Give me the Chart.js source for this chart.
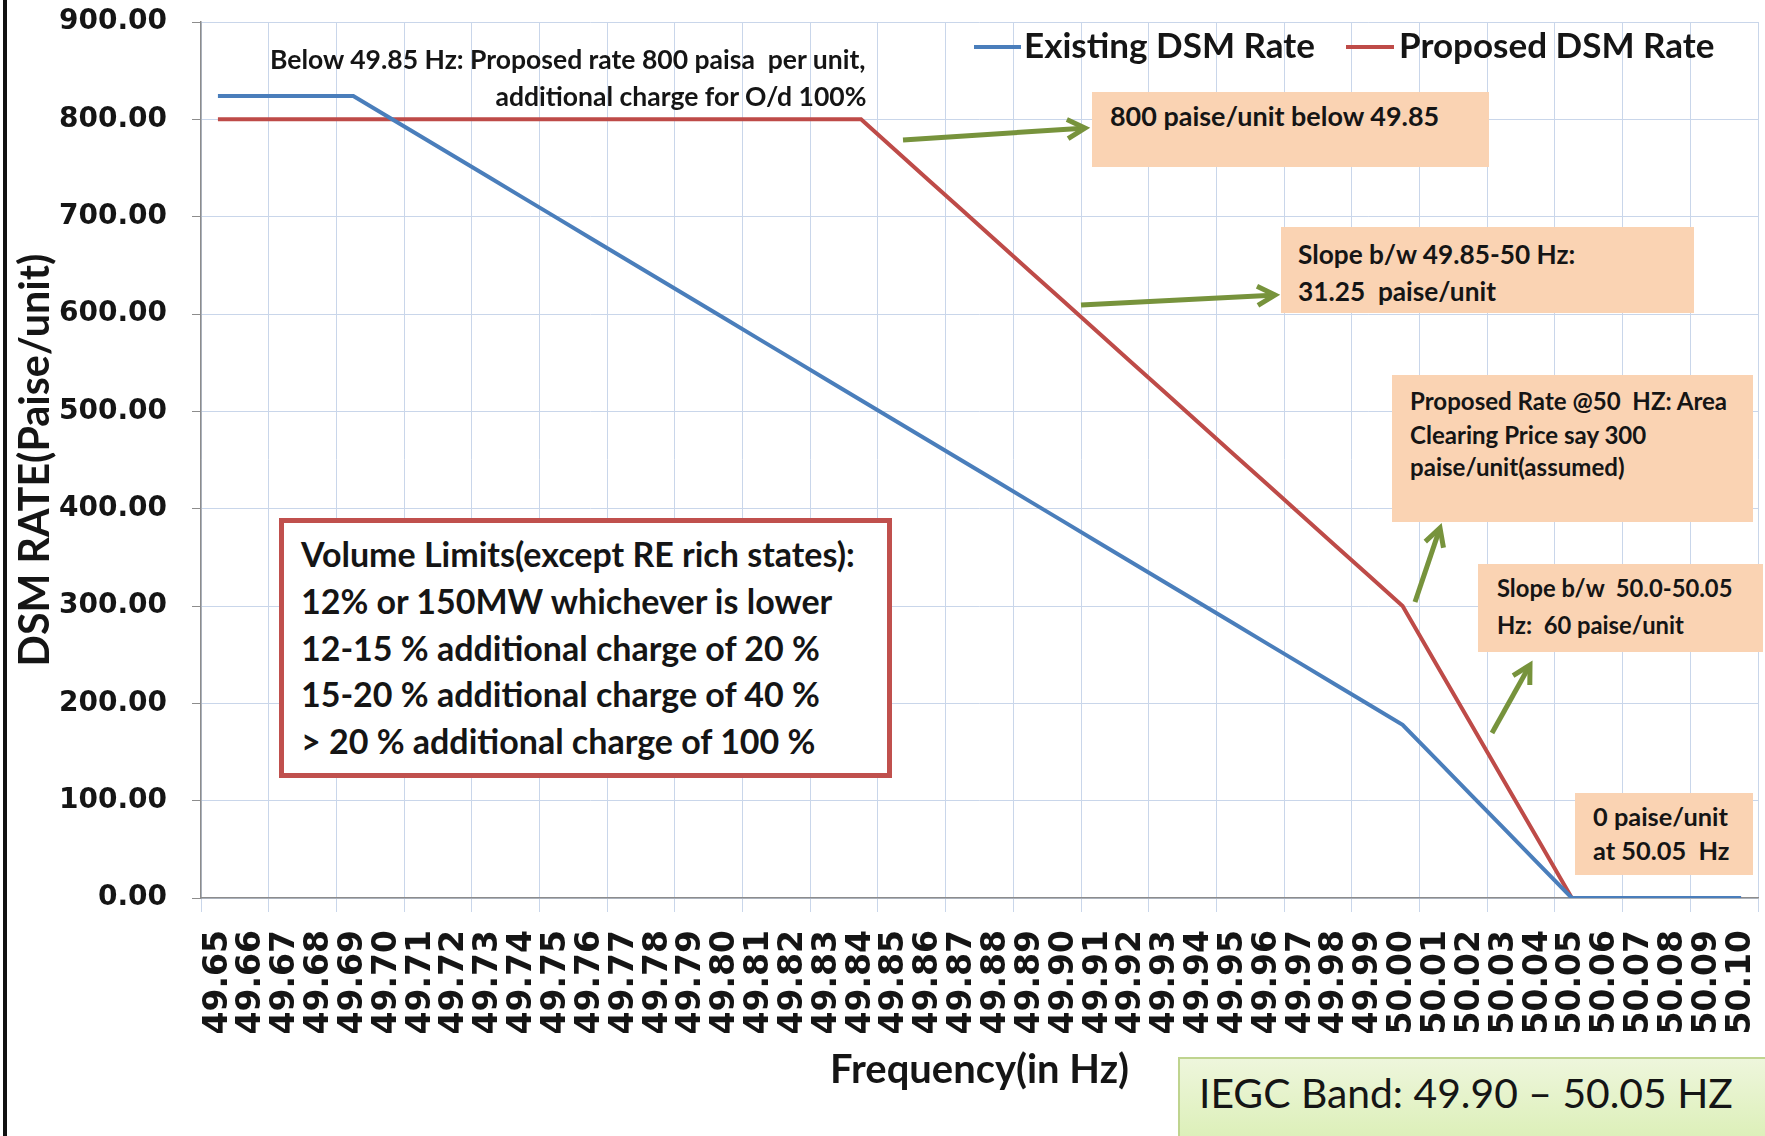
<!DOCTYPE html>
<html><head><meta charset="utf-8">
<script src="https://cdn.jsdelivr.net/npm/chart.js@4.4.1/dist/chart.umd.min.js"></script>
<style>
html,body{margin:0;padding:0;background:#fff;}
#wrap{position:relative;width:1765px;height:1136px;overflow:hidden;background:#fff;}
#c{position:absolute;left:0;top:0;}
.t{position:absolute;white-space:pre;color:#151515;}
.box{position:absolute;box-sizing:border-box;}
#arrows{position:absolute;left:0;top:0;}
</style></head><body>
<div id="wrap"><canvas id="c" width="1765" height="1136"></canvas></div>
<script>
// ---------- data ----------
const frequencyLabels = ['49.65','49.66','49.67','49.68','49.69','49.70','49.71','49.72','49.73','49.74',
  '49.75','49.76','49.77','49.78','49.79','49.80','49.81','49.82','49.83','49.84',
  '49.85','49.86','49.87','49.88','49.89','49.90','49.91','49.92','49.93','49.94',
  '49.95','49.96','49.97','49.98','49.99','50.00','50.01','50.02','50.03','50.04',
  '50.05','50.06','50.07','50.08','50.09','50.10'];
const existingRate = [824.04,824.04,824.04,824.04,824.04, 803.20,782.36,761.52,740.68,719.84,
  699.00,678.16,657.32,636.48,615.64, 594.80,573.96,553.12,532.28,511.44,
  490.60,469.76,448.92,428.08,407.24, 386.40,365.56,344.72,323.88,303.04,
  282.20,261.36,240.52,219.68,198.84, 178.00,142.40,106.80,71.20,35.60,
  0,0,0,0,0,0];
const proposedRate = [800,800,800,800,800, 800,800,800,800,800,
  800,800,800,800,800, 800,800,800,800,800,
  768.75,737.50,706.25,675.00,643.75, 612.50,581.25,550.00,518.75,487.50,
  456.25,425.00,393.75,362.50,331.25, 300,240,180,120,60,
  0,0,0,0,0,0];
const seriesNames = ['Existing DSM Rate','Proposed DSM Rate'];
const yMin = 0, yMax = 900, yStep = 100;
const xTitle = 'Frequency(in Hz)';
const yTitle = 'DSM RATE(Paise/unit)';

// ---------- styles ----------
const BLUE = '#4a7ebb', RED = '#be4b48', GREEN = '#77933c';
const GRID = '#c9d6ea', AXIS = '#8c8c8c', TXT = '#151515';
const PEACH = '#fad3b3';
const CAL = 'Lato';

const mctx = document.createElement('canvas').getContext('2d');
function fitSize(text, weight, family, target){
  mctx.font = weight + ' 100px ' + family;
  return 100 * target / mctx.measureText(text).width;
}
const yTitleSize = fitSize(yTitle, 'bold', CAL, 413);
const xTitleSize = fitSize(xTitle, 'bold', CAL, 299);

const ctx = document.getElementById('c').getContext('2d');
const everyOther = c => (c.index === undefined || c.index % 2 === 0) ? GRID : 'rgba(0,0,0,0)';

new Chart(ctx, {
  type: 'line',
  data: {
    labels: frequencyLabels,
    datasets: [
      {label: seriesNames[0], data: existingRate, borderColor: BLUE, borderWidth: 4, pointRadius: 0, tension: 0, fill: false},
      {label: seriesNames[1], data: proposedRate, borderColor: RED, borderWidth: 4, pointRadius: 0, tension: 0, fill: false}
    ]
  },
  options: {
    responsive: false, animation: false,
    layout: {padding: {left: 0, right: 7, top: 22, bottom: 0}},
    plugins: {legend: {display: false}, tooltip: {enabled: false}},
    scales: {
      x: {
        type: 'category', offset: true,
        grid: {offset: true, color: everyOther, tickColor: everyOther, lineWidth: 1, tickLength: 14},
        border: {display: true, color: AXIS, width: 1.5},
        ticks: {autoSkip: false, minRotation: 90, maxRotation: 90, padding: 18, color: TXT,
                font: {family: 'DejaVu Sans', weight: 'bold', size: 33}},
        title: {display: true, text: xTitle, color: TXT,
                font: {family: CAL, weight: 'bold', size: xTitleSize},
                padding: {top: 0, bottom: 66 - xTitleSize * 0.6}},
        afterFit: s => { s.height = 238; s.paddingLeft = 0; s.paddingRight = 0; }
      },
      y: {
        min: yMin, max: yMax,
        grid: {color: GRID, tickColor: AXIS, lineWidth: 1, tickLength: 9},
        border: {display: true, color: AXIS, width: 1.5},
        ticks: {stepSize: yStep, padding: 25, color: TXT, callback: v => Number(v).toFixed(2),
                font: {family: 'DejaVu Sans', weight: 'bold', size: 28}},
        title: {display: true, text: yTitle, color: TXT,
                font: {family: CAL, weight: 'bold', size: yTitleSize},
                padding: {top: 36 - yTitleSize * 0.6, bottom: 0}},
        afterFit: s => { s.width = 201; s.paddingTop = 0; s.paddingBottom = 0; }
      }
    }
  }
});

// ---------- overlays (annotations) ----------
const wrap = document.getElementById('wrap');
function addBox(x1, y1, x2, y2, css){
  const d = document.createElement('div'); d.className = 'box';
  d.style.left = x1 + 'px'; d.style.top = y1 + 'px';
  d.style.width = (x2 - x1) + 'px'; d.style.height = (y2 - y1) + 'px';
  Object.assign(d.style, css); wrap.appendChild(d);
}
function addText(str, o){
  const weight = o.weight || 'bold', family = o.family || CAL, size = o.size;
  const d = document.createElement('div'); d.className = 't'; d.textContent = str;
  d.style.font = weight + ' ' + size + 'px ' + family; d.style.lineHeight = '1';
  let left = o.x;
  if (o.right !== undefined){ mctx.font = weight + ' ' + size + 'px ' + family; left = o.right - mctx.measureText(str).width; }
  d.style.left = left + 'px'; d.style.top = (o.yc - 0.56 * size) + 'px';
  if (o.color) d.style.color = o.color;
  wrap.appendChild(d);
}
function addLines(lines, x, ycs, target, weight){
  const s = fitSize(lines[0], weight || 'bold', CAL, target);
  lines.forEach((l, i) => addText(l, {x: x, yc: ycs[i], size: s, weight: weight}));
  return s;
}

// left frame line
addBox(3, 0, 7, 1136, {background: '#111'});

// legend
const legSize = fitSize(seriesNames[0], 'bold', CAL, 291);
addBox(974, 45, 1021, 49, {background: BLUE});
addText(seriesNames[0], {x: 1024, yc: 47, size: legSize});
addBox(1346, 45, 1394, 49, {background: RED});
addText(seriesNames[1], {x: 1399, yc: 47, size: legSize});

// note at top-left
const n1 = fitSize('Below 49.85 Hz: Proposed rate 800 paisa  per unit,', 'bold', CAL, 597);
addText('Below 49.85 Hz: Proposed rate 800 paisa  per unit,', {x: 270, yc: 61, size: n1});
addText('additional charge for O/d 100%', {right: 867, yc: 98, size: n1});

// peach boxes
addBox(1092, 92, 1489, 167, {background: PEACH});
addLines(['800 paise/unit below 49.85'], 1110, [118], 330);

addBox(1281, 227, 1694, 313, {background: PEACH});
addLines(['Slope b/w 49.85-50 Hz:', '31.25  paise/unit'], 1298, [256, 293], 278);

addBox(1392, 375, 1753, 522, {background: PEACH});
addLines(['Proposed Rate @50  HZ: Area', 'Clearing Price say 300', 'paise/unit(assumed)'], 1410, [402, 436, 468], 318);

addBox(1478, 564, 1763, 652, {background: PEACH});
addLines(['Slope b/w  50.0-50.05', 'Hz:  60 paise/unit'], 1497, [590, 627], 236);

addBox(1575, 793, 1753, 875, {background: PEACH});
addLines(['0 paise/unit', 'at 50.05  Hz'], 1593, [818, 852], 135);

// volume limits box
addBox(279, 518, 892, 778, {background: '#fff', border: '5px solid #c0504d'});
addLines(['Volume Limits(except RE rich states):', '12% or 150MW whichever is lower',
  '12-15 % additional charge of 20 %', '15-20 % additional charge of 40 %',
  '> 20 % additional charge of 100 %'], 301, [556, 603, 650, 696, 743], 554);

// IEGC band box
addBox(1178, 1057, 1775, 1146, {background: 'linear-gradient(#eef6dc, #dbefb6)', border: '2px solid #bfd48f'});
addLines(['IEGC Band: 49.90 \u2013 50.05 HZ'], 1199, [1096], 534, 'normal');

// arrows
const NS = 'http://www.w3.org/2000/svg';
const svg = document.createElementNS(NS, 'svg');
svg.setAttribute('id', 'arrows'); svg.setAttribute('width', 1765); svg.setAttribute('height', 1136);
wrap.appendChild(svg);
function arrow(x1, y1, x2, y2){
  const ang = Math.atan2(y2 - y1, x2 - x1), L = 20, A = 0.5;
  const p = (a) => (x2 - L * Math.cos(ang + a)) + ',' + (y2 - L * Math.sin(ang + a));
  const ln = document.createElementNS(NS, 'line');
  ln.setAttribute('x1', x1); ln.setAttribute('y1', y1); ln.setAttribute('x2', x2 - 2 * Math.cos(ang)); ln.setAttribute('y2', y2 - 2 * Math.sin(ang));
  ln.setAttribute('stroke', GREEN); ln.setAttribute('stroke-width', 5);
  svg.appendChild(ln);
  const hd = document.createElementNS(NS, 'polyline');
  hd.setAttribute('points', p(A) + ' ' + x2 + ',' + y2 + ' ' + p(-A));
  hd.setAttribute('fill', 'none'); hd.setAttribute('stroke', GREEN); hd.setAttribute('stroke-width', 5);
  hd.setAttribute('stroke-linejoin', 'miter');
  svg.appendChild(hd);
}
arrow(903, 140, 1085, 128);
arrow(1081, 305, 1275, 295);
arrow(1415, 602, 1440, 528);
arrow(1492, 733, 1530, 665);
</script>
</body></html>
